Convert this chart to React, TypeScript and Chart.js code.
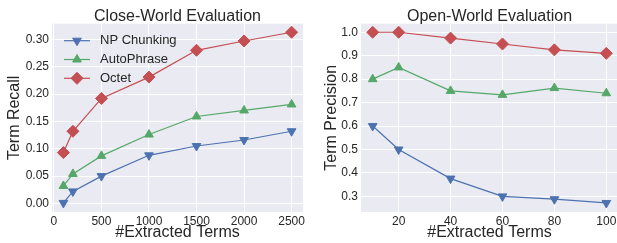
import React, { useEffect, useRef } from 'react';
import { Chart, registerables } from 'chart.js';

Chart.register(...registerables);

const FONT = "'Liberation Sans', Arial, sans-serif";
const TEXT = '#262626';
const BLUE = '#4C72B0';
const GREEN = '#55A868';
const RED = '#C44E52';

const seriesNames = ['NP Chunking', 'AutoPhrase', 'Octet'];

const closeX = [100, 200, 500, 1000, 1500, 2000, 2500];
const closeNP = [0.001, 0.022, 0.05, 0.088, 0.105, 0.116, 0.132];
const closeAuto = [0.032, 0.054, 0.087, 0.126, 0.159, 0.17, 0.181];
const closeOctet = [0.093, 0.132, 0.192, 0.231, 0.28, 0.297, 0.313];
const closeXTicks = [0, 500, 1000, 1500, 2000, 2500];
const closeYTicks = [0, 0.05, 0.1, 0.15, 0.2, 0.25, 0.3];

const openX = [10, 20, 40, 60, 80, 100];
const openNP = [0.6, 0.5, 0.376, 0.3, 0.288, 0.272];
const openAuto = [0.8, 0.85, 0.75, 0.733, 0.762, 0.74];
const openOctet = [1.0, 1.0, 0.975, 0.95, 0.925, 0.91];
const openXTicks = [20, 40, 60, 80, 100];
const openYTicks = [0.3, 0.4, 0.5, 0.6, 0.7, 0.8, 0.9, 1.0];

const markerStyles = [
  { style: 'triangle', rotation: 180, radius: 5, color: BLUE },
  { style: 'triangle', rotation: 0, radius: 5, color: GREEN },
  { style: 'rectRot', rotation: 0, radius: 6, color: RED },
];

function drawMarker(ctx: CanvasRenderingContext2D, kind: string, rotation: number, x: number, y: number, r: number, color: string) {
  ctx.save();
  ctx.fillStyle = color;
  ctx.strokeStyle = color;
  ctx.lineWidth = 1;
  ctx.beginPath();
  if (kind === 'triangle') {
    let rad = (rotation * Math.PI) / 180;
    for (let i = 0; i < 3; i++) {
      const px = x + Math.sin(rad) * r;
      const py = y - Math.cos(rad) * r;
      if (i === 0) ctx.moveTo(px, py);
      else ctx.lineTo(px, py);
      rad += (2 * Math.PI) / 3;
    }
  } else {
    ctx.moveTo(x - r, y);
    ctx.lineTo(x, y - r);
    ctx.lineTo(x + r, y);
    ctx.lineTo(x, y + r);
  }
  ctx.closePath();
  ctx.fill();
  ctx.stroke();
  ctx.restore();
}

const bgPlugin = {
  id: 'plotBg',
  beforeDraw(chart: any) {
    const { ctx, chartArea } = chart;
    ctx.save();
    ctx.fillStyle = '#EAEAF2';
    ctx.fillRect(chartArea.left, chartArea.top, chartArea.right - chartArea.left, chartArea.bottom - chartArea.top);
    ctx.restore();
  },
};

const legendPlugin = {
  id: 'innerLegend',
  afterDatasetsDraw(chart: any) {
    const ctx: CanvasRenderingContext2D = chart.ctx;
    chart.data.datasets.forEach((ds: any, i: number) => {
      const y = 40.7 + i * 18.8;
      const m = markerStyles[i];
      ctx.save();
      ctx.strokeStyle = m.color;
      ctx.lineWidth = 1.2;
      ctx.beginPath();
      ctx.moveTo(64, y);
      ctx.lineTo(90, y);
      ctx.stroke();
      ctx.restore();
      drawMarker(ctx, m.style, m.rotation, 77, y, m.radius, m.color);
      ctx.save();
      ctx.fillStyle = TEXT;
      ctx.font = `13px ${FONT}`;
      ctx.textBaseline = 'middle';
      ctx.textAlign = 'left';
      ctx.fillText(ds.label, 100, y);
      ctx.restore();
    });
  },
};

function makeDatasets(xs: number[], series: number[][]) {
  return series.map((vals, i) => {
    const m = markerStyles[i];
    return {
      label: seriesNames[i],
      data: xs.map((x, j) => ({ x, y: vals[j] })),
      borderColor: m.color,
      backgroundColor: m.color,
      borderWidth: 1.2,
      pointStyle: m.style,
      pointRotation: m.rotation,
      pointRadius: m.radius,
      pointHoverRadius: m.radius,
      pointBackgroundColor: m.color,
      pointBorderColor: m.color,
      pointBorderWidth: 1,
      tension: 0,
      clip: false as any,
    };
  });
}

function makeConfig(p: {
  title: string;
  yTitle: string;
  xs: number[];
  series: number[][];
  xMin: number;
  xMax: number;
  yMin: number;
  yMax: number;
  xTicks: number[];
  yTicks: number[];
  yDecimals: number;
  yWidth: number;
  yTitlePad: number;
  padRight: number;
  legend: boolean;
}): any {
  return {
    type: 'line',
    data: { datasets: makeDatasets(p.xs, p.series) },
    plugins: p.legend ? [bgPlugin, legendPlugin] : [bgPlugin],
    options: {
      responsive: false,
      animation: false,
      devicePixelRatio: 1,
      layout: { padding: { left: 0, right: p.padRight, top: 0, bottom: 0 } },
      plugins: {
        legend: { display: false },
        tooltip: { enabled: false },
        title: {
          display: true,
          text: p.title,
          fullSize: false,
          color: TEXT,
          font: { family: FONT, size: 16, weight: 'normal', lineHeight: 1.2 },
          padding: { top: 7, bottom: -2.5 },
        },
      },
      scales: {
        x: {
          type: 'linear',
          min: p.xMin,
          max: p.xMax,
          afterBuildTicks: (s: any) => {
            s.ticks = p.xTicks.map((v) => ({ value: v }));
          },
          afterFit: (s: any) => {
            s.height = 31;
          },
          grid: { color: '#FFFFFF', lineWidth: 1, drawTicks: false },
          border: { display: false },
          ticks: {
            padding: 2,
            color: TEXT,
            autoSkip: false,
            maxRotation: 0,
            font: { family: FONT, size: 12 },
            callback: (v: any) => String(v),
          },
          title: {
            display: true,
            text: '#Extracted Terms',
            color: TEXT,
            font: { family: FONT, size: 16, lineHeight: 1.2 },
            padding: { top: 0, bottom: 1 },
          },
        },
        y: {
          type: 'linear',
          min: p.yMin,
          max: p.yMax,
          afterBuildTicks: (s: any) => {
            s.ticks = p.yTicks.map((v) => ({ value: v }));
          },
          afterFit: (s: any) => {
            s.width = p.yWidth;
          },
          grid: { color: '#FFFFFF', lineWidth: 1, drawTicks: false },
          border: { display: false },
          ticks: {
            padding: 3,
            color: TEXT,
            autoSkip: false,
            font: { family: FONT, size: 12 },
            callback: (v: any) => Number(v).toFixed(p.yDecimals),
          },
          title: {
            display: true,
            text: p.yTitle,
            color: TEXT,
            font: { family: FONT, size: 16, lineHeight: 1.2 },
            padding: { top: p.yTitlePad, bottom: 0 },
          },
        },
      },
    },
  };
}

function ChartCanvas({ config, left, width }: { config: () => any; left: number; width: number }) {
  const ref = useRef<HTMLCanvasElement>(null);
  useEffect(() => {
    const chart = new Chart(ref.current as HTMLCanvasElement, config());
    return () => chart.destroy();
  }, []);
  return (
    <canvas
      ref={ref}
      width={width}
      height={243}
      style={{ position: 'absolute', left, top: 0, width, height: 243 }}
    />
  );
}

export default function App() {
  const leftConfig = () =>
    makeConfig({
      title: 'Close-World Evaluation',
      yTitle: 'Term Recall',
      xs: closeX,
      series: [closeNP, closeAuto, closeOctet],
      xMin: -20,
      xMax: 2620,
      yMin: -0.0156,
      yMax: 0.3286,
      xTicks: closeXTicks,
      yTicks: closeYTicks,
      yDecimals: 2,
      yWidth: 52,
      yTitlePad: 5,
      padRight: 2,
      legend: true,
    });
  const rightConfig = () =>
    makeConfig({
      title: 'Open-World Evaluation',
      yTitle: 'Term Precision',
      xs: openX,
      series: [openNP, openAuto, openOctet],
      xMin: 5.5,
      xMax: 104.5,
      yMin: 0.2335,
      yMax: 1.0365,
      xTicks: openXTicks,
      yTicks: openYTicks,
      yDecimals: 1,
      yWidth: 51,
      yTitlePad: 12,
      padRight: 12,
      legend: false,
    });
  return (
    <div
      style={{
        position: 'fixed',
        left: 0,
        top: 0,
        width: 617,
        height: 243,
        overflow: 'hidden',
        background: '#FFFFFF',
      }}
    >
      <ChartCanvas config={leftConfig} left={0} width={310} />
      <ChartCanvas config={rightConfig} left={310} width={320} />
    </div>
  );
}
